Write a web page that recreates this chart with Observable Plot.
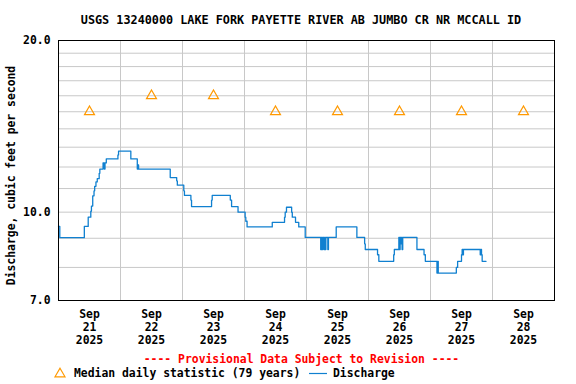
<!DOCTYPE html>
<html><head><meta charset="utf-8">
<script src="https://cdn.jsdelivr.net/npm/d3@7"></script>
<script src="https://cdn.jsdelivr.net/npm/@observablehq/plot@0.6"></script>
<style>
body{margin:0;background:#fff;}
#wrap{position:relative;width:576px;height:384px;font-family:"DejaVu Sans Mono",monospace;font-weight:bold;color:#000;}
#wrap svg.plot{position:absolute;left:0;top:0;}
.t{position:absolute;white-space:pre;line-height:1;font-size:11.4px;}
</style></head><body>
<div id="wrap">
<div class="t" id="title" style="left:0;width:602px;top:15px;text-align:center;font-size:11.8px;"></div>
<div class="t" id="prov" style="left:0;width:603px;top:354px;text-align:center;color:#ff0000;"></div>
<svg style="position:absolute;left:53px;top:366px" width="14" height="14"><path d="M7,2.2L12,10.8L2,10.8Z" fill="none" stroke="#ff9900" stroke-width="1.2"/></svg>
<div class="t" id="leg1" style="left:74px;top:368px;"></div>
<svg style="position:absolute;left:309px;top:368px" width="20" height="12"><line x1="0" y1="5.5" x2="18" y2="5.5" stroke="#1080d0" stroke-width="1.2"/></svg>
<div class="t" id="leg2" style="left:333px;top:368px;"></div>
</div>
<script>
const titleText = "USGS 13240000 LAKE FORK PAYETTE RIVER AB JUMBO CR NR MCCALL ID";
const yLabel = "Discharge, cubic feet per second";
const provText = "---- Provisional Data Subject to Revision ----";
const legendMedian = "Median daily statistic (79 years)";
const legendFlow = "Discharge";

const dayLabels = ["2025-09-21", "2025-09-22", "2025-09-23", "2025-09-24", "2025-09-25", "2025-09-26", "2025-09-27", "2025-09-28"];
const medianValues = [15, 16, 16, 15, 15, 15, 15, 15];
const yTicks = [7, 10, 20];
const yGrid = [8, 9, 10, 11, 12, 13, 14, 15, 16, 17, 18, 19];

const times = [
 "21T00:00","21T00:30","21T10:00","21T11:30","21T12:30","21T12:45","21T13:15","21T13:45","21T14:00","21T14:30",
 "21T15:00","21T15:45","21T16:00","21T17:15","21T17:45","21T18:00","21T18:30","21T23:00","21T23:15",
 "22T04:00","22T06:30","22T06:45","22T07:00","22T19:15","22T21:45","22T22:00",
 "23T00:30","23T00:45","23T03:15","23T03:30","23T11:15","23T11:30","23T18:30","23T19:00","23T21:30",
 "24T00:15","24T00:30","24T01:00","24T10:45","24T15:30","24T15:45","24T16:15","24T18:15","24T18:30","24T19:45","24T21:00","24T23:30",
 "25T05:30","25T05:45","25T06:00","25T06:15","25T06:45","25T07:00","25T07:15","25T07:30","25T08:15","25T08:30",
 "25T11:30","25T19:30","25T22:30","25T22:45",
 "26T03:30","26T04:00","26T09:45","26T10:00","26T11:45","26T12:00","26T12:15","26T12:30","26T12:45","26T13:00","26T13:15",
 "26T18:45","26T21:30","26T22:00",
 "27T02:30","27T02:45","27T03:00","27T10:00","27T10:30","27T12:00","27T12:15","27T12:30","27T12:45",
 "27T19:15","27T19:30","27T19:45","27T20:00","27T21:30"
];
const flows = [
 9.44,9.02,9.44,9.8,10.04,10.25,10.68,10.9,11.1,11.3,
 11.45,11.7,11.9,12.2,11.9,12.2,12.4,12.6,12.8,
 12.4,11.9,12.1,11.9,11.5,11.35,11.15,
 10.9,10.7,10.5,10.23,10.5,10.7,10.5,10.23,10.0,
 9.8,9.64,9.42,9.6,9.8,10.0,10.2,10.0,9.8,9.6,9.42,9.03,
 8.6,9.03,8.6,9.03,8.6,9.03,8.6,9.03,8.6,9.03,
 9.42,9.03,8.8,8.6,
 8.42,8.2,8.42,8.6,9.03,8.6,9.03,8.8,9.03,8.6,9.03,
 8.6,8.42,8.2,
 7.82,8.2,7.82,8.0,8.2,8.42,8.6,8.42,8.6,
 8.42,8.6,8.42,8.2,8.2
];

document.getElementById("title").textContent = titleText;
document.getElementById("prov").textContent = provText;
document.getElementById("leg1").textContent = legendMedian;
document.getElementById("leg2").textContent = legendFlow;

const parse = s => new Date("2025-09-" + s + ":00Z");
const flowData = times.map((t, i) => ({date: parse(t), value: flows[i]}));
const noons = dayLabels.map(d => new Date(d + "T12:00:00Z"));
const medianData = noons.map((d, i) => ({date: d, value: medianValues[i]}));
const midnights = dayLabels.slice(1).map(d => new Date(d + "T00:00:00Z"));
const fmtDay = d3.utcFormat("%b\n%d\n%Y");

const chart = Plot.plot({
  width: 576,
  height: 384,
  marginTop: 40,
  marginRight: 22,
  marginBottom: 84,
  marginLeft: 58,
  style: {fontFamily: "'DejaVu Sans Mono', monospace", fontSize: "11.4px", fontWeight: "bold", background: "transparent", overflow: "visible"},
  x: {type: "utc", domain: [new Date("2025-09-21T00:00:00Z"), new Date("2025-09-29T00:00:00Z")], axis: null},
  y: {type: "log", domain: [7, 20]},
  marks: [
    Plot.gridY(yGrid, {stroke: "#c8c8c8", strokeOpacity: 1, strokeWidth: 1}),
    Plot.gridX(midnights, {stroke: "#c8c8c8", strokeOpacity: 1, strokeWidth: 1}),
    Plot.axisY(yTicks, {tickFormat: d3.format(".1f"), tickSize: 0, tickPadding: 8, label: null, fill: "#000"}),
    Plot.text([yLabel], {text: d => d, frameAnchor: "left", dx: -47, dy: 5, rotate: -90, textAnchor: "middle", lineAnchor: "middle", fill: "#000"}),
    Plot.text(noons, {x: d => d, text: d => fmtDay(d), frameAnchor: "bottom", lineAnchor: "top", dy: 8, lineHeight: 1.15, fill: "#000"}),
    Plot.line(flowData, {x: "date", y: "value", curve: "step-after", stroke: "#1080d0", strokeWidth: 1.3}),
    Plot.dot(medianData, {x: "date", y: "value", symbol: "triangle", r: 3.7, stroke: "#ff9900", strokeWidth: 1.2, fill: "none"}),
    Plot.frame({stroke: "#000", strokeWidth: 1})
  ]
});
chart.classList.add("plot");
document.getElementById("wrap").appendChild(chart);
</script>
</body></html>
